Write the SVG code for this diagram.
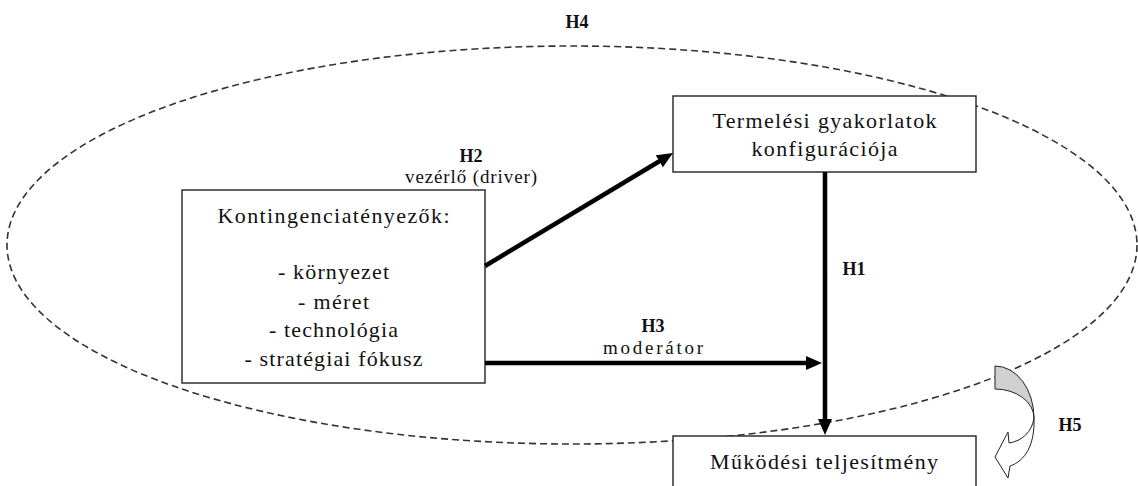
<svg xmlns="http://www.w3.org/2000/svg" width="1138" height="486" viewBox="0 0 1138 486">
  <style>
    .box { fill: #ffffff; stroke: #222222; stroke-width: 1.4; }
    .ntext { font-family: "Liberation Serif", "DejaVu Serif", "Times New Roman", serif; font-size: 22px; fill: #111111; text-anchor: middle; }
    .lbl { font-family: "Liberation Serif", "DejaVu Serif", "Times New Roman", serif; font-size: 19px; fill: #111111; text-anchor: middle; }
    .hl { font-family: "Liberation Serif", "DejaVu Serif", "Times New Roman", serif; font-size: 18px; font-weight: bold; fill: #111111; text-anchor: middle; }
    .conn { stroke: #000000; stroke-width: 4.5; fill: none; marker-end: url(#ah); }
    .dash { fill: none; stroke: #333333; stroke-width: 1.6; stroke-dasharray: 7 4; }
  </style>
  <defs>
    <marker id="ah" markerUnits="userSpaceOnUse" markerWidth="17" markerHeight="14" refX="6" refY="7" orient="auto">
      <path d="M0,0 L16,7 L0,14 Z" fill="#000000"/>
    </marker>
  </defs>
  <rect width="1138" height="486" fill="#ffffff"/>

  <g id="h4-ellipse">
    <ellipse class="dash" cx="572" cy="245" rx="565" ry="199"/>
    <text class="hl" x="577" y="28">H4</text>
  </g>

  <g id="node-termelesi">
    <rect class="box" x="673" y="96" width="303" height="76"/>
    <text class="ntext" x="824.5" y="128" textLength="224" lengthAdjust="spacing">Termelési gyakorlatok</text>
    <text class="ntext" x="824.5" y="156" textLength="146" lengthAdjust="spacing">konfigurációja</text>
  </g>

  <g id="node-kontingencia">
    <rect class="box" x="182" y="190" width="303" height="193"/>
    <text class="ntext" x="333.5" y="223" textLength="232" lengthAdjust="spacing">Kontingenciatényezők:</text>
    <text class="ntext" x="333.5" y="279" textLength="111" lengthAdjust="spacing">- környezet</text>
    <text class="ntext" x="333.5" y="309" textLength="71" lengthAdjust="spacing">- méret</text>
    <text class="ntext" x="333.5" y="337" textLength="129" lengthAdjust="spacing">- technológia</text>
    <text class="ntext" x="333.5" y="366" textLength="178" lengthAdjust="spacing">- stratégiai fókusz</text>
  </g>

  <g id="node-mukodesi">
    <rect class="box" x="673" y="436" width="303" height="60"/>
    <text class="ntext" x="824" y="469" textLength="228" lengthAdjust="spacing">Működési teljesítmény</text>
  </g>

  <g id="connectors">
    <line class="conn" x1="485" y1="266" x2="664.4" y2="158.2"/>
    <line class="conn" x1="825" y1="172" x2="825" y2="425"/>
    <line class="conn" x1="485" y1="363" x2="812" y2="363"/>
    <text class="hl" x="471" y="162">H2</text>
    <text class="lbl" x="471" y="183" textLength="132" lengthAdjust="spacing">vezérlő (driver)</text>
    <text class="hl" x="854" y="275">H1</text>
    <text class="hl" x="653" y="332">H3</text>
    <text class="lbl" x="653" y="354" textLength="100" lengthAdjust="spacing">moderátor</text>
  </g>

  <g id="h5-arrow">
    <path d="M995,366 A39,52 0 0 1 1034,418 A39,29 0 0 0 995,389 Z" fill="#d0d0d0" stroke="#222222" stroke-width="1"/>
    <path d="M1034,418 C1035,445 1025,461 1010,466 L1008,478 L995,457 L1008,432 L1009,443 C1022,441 1032,432 1034,418 Z" fill="#ffffff" stroke="#222222" stroke-width="1"/>
    <text class="hl" x="1070" y="431">H5</text>
  </g>
</svg>
